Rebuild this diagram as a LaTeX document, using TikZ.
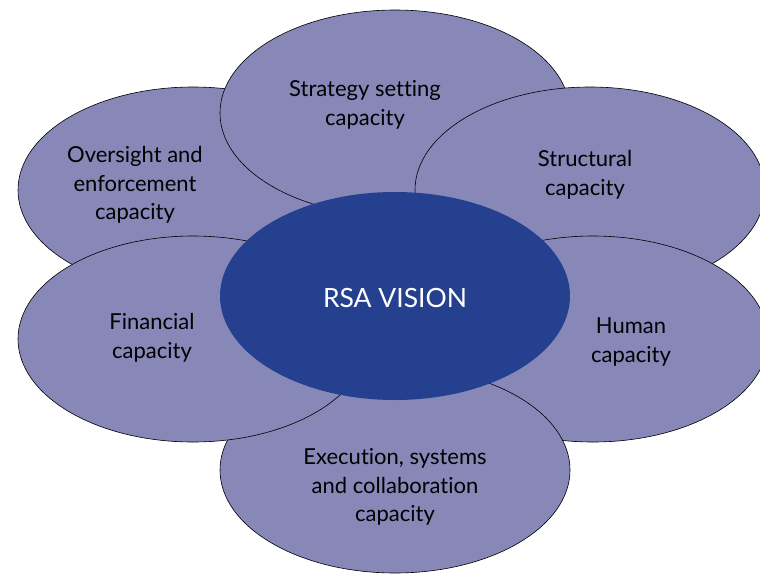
\documentclass[tikz,border=0pt]{standalone}
\usepackage{fontspec}
\setmainfont[Ligatures=NoCommon]{Lato}
\usetikzlibrary{shapes.geometric}
\colorlet{background}{white}
\definecolor{petalColor}{RGB}{135,135,184}
\definecolor{coreColor}{RGB}{36,64,142}
\tikzset{petal/.style={ellipse, draw=black, line width=0.6pt, fill=petalColor,
    minimum width=350pt, minimum height=206pt, inner sep=0pt},
  lbl/.style={align=center, font=\fontsize{22}{28.5}\selectfont, text=black}}

\begin{document}
\begin{tikzpicture}[x=1pt,y=-1pt]
\useasboundingbox[fill=background] (0,0) rectangle (760,573);
% petals, drawn in the order they overlap
\node[petal] (oversight) at (193,190) {};
\node[petal] (strategy) at (395,113) {};
\node[petal] (structural) at (590,190) {};
\node[petal] (human) at (593,339) {};
\node[petal] (execution) at (395,470) {};
\node[petal] (financial) at (193,339) {};
% centre
\node[ellipse, fill=coreColor, minimum width=350pt, minimum height=208pt, inner sep=0pt] (vision) at (395,296) {};
\node[font=\fontsize{26.5}{30}\selectfont, text=white] (vision-t) at (395,298) {RSA VISION};
% labels
\node[lbl] (oversight-t) at (135,185) {Oversight and\\enforcement\\capacity};
\node[lbl] (strategy-t) at (365,105) {Strategy setting\\capacity};
\node[lbl] (structural-t) at (585,175) {Structural\\capacity};
\node[lbl] (financial-t) at (152,338) {Financial\\capacity};
\node[lbl] (human-t) at (631,342) {Human\\capacity};
\node[lbl] (execution-t) at (395,487) {Execution, systems\\and collaboration\\capacity};
\end{tikzpicture}
\end{document}
